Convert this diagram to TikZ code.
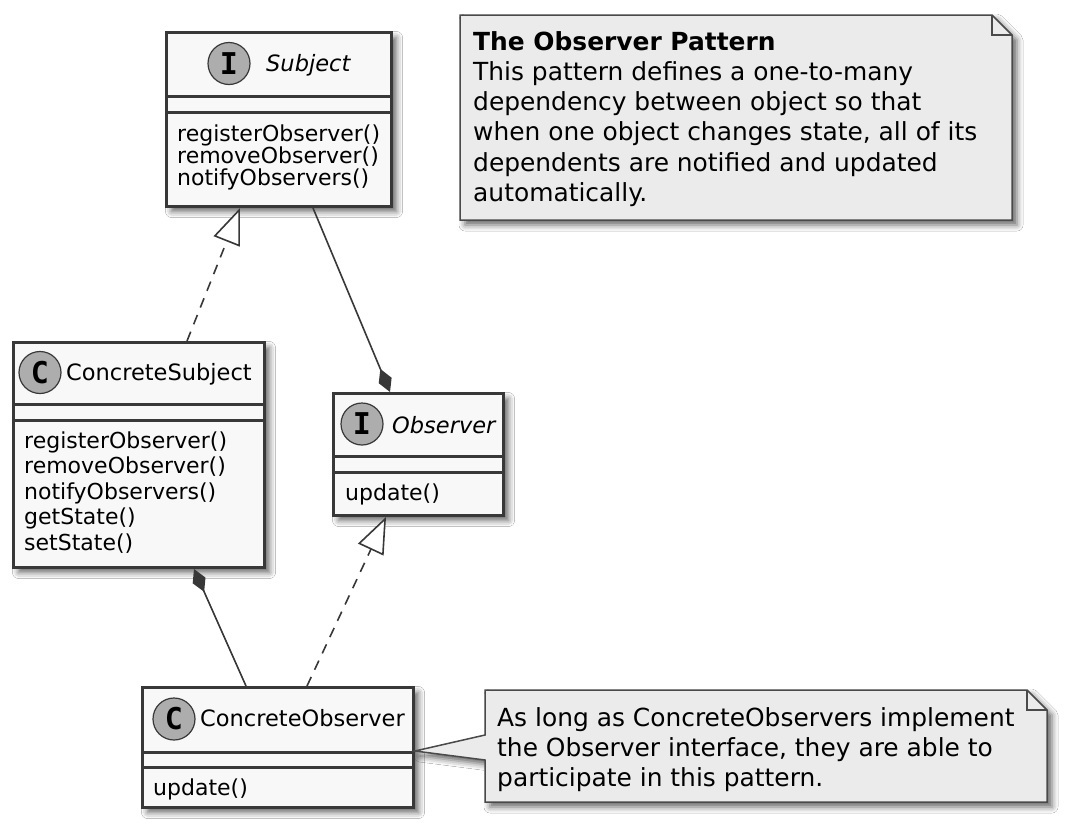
\documentclass[tikz,border=0pt]{standalone}
\usepackage{fontspec}
\setmainfont{DejaVu Sans}
\newfontfamily\spotfont{DejaVu Sans Mono}
\usetikzlibrary{arrows.meta,shadows.blur,calc}
\definecolor{border}{HTML}{383838}
\definecolor{boxfill}{HTML}{F8F8F8}
\definecolor{notefill}{HTML}{EBEBEB}
\definecolor{spotfill}{HTML}{ADADAD}
\definecolor{noteborder}{HTML}{4A4A4A}
\begin{document}
\begin{tikzpicture}[x=1pt,y=-1pt,
  shadowed/.style={blur shadow={shadow xshift=5pt, shadow yshift=-5pt, shadow blur radius=6pt, shadow opacity=60}},
  classbox/.style={draw=border, fill=boxfill, line width=3pt, anchor=north west, inner sep=0pt, shadowed},
  sepline/.style={draw=border, line width=3pt},
  spot/.style={circle, draw=border, fill=spotfill, line width=1.2pt, minimum size=42pt, inner sep=0pt, font=\spotfont\bfseries\fontsize{30}{30}\selectfont},
  cname/.style={anchor=base west, inner sep=0pt, font=\fontsize{22.5}{27}\selectfont},
  iname/.style={anchor=base west, inner sep=0pt, font=\fontsize{22.5}{27}\selectfont\itshape},
  member/.style={anchor=base west, inner sep=0pt, font=\fontsize{22}{24}\selectfont},
  notebox/.style={draw=noteborder, fill=notefill, line width=1.5pt, line join=miter, shadowed},
  foldline/.style={draw=noteborder, line width=1.5pt},
  notetext/.style={anchor=base west, inner sep=0pt, font=\fontsize{24.9}{30}\selectfont},
  conn/.style={draw=border, line width=1.6pt},
  realize/.style={conn, dash pattern=on 10pt off 8pt, -{Triangle[length=36pt,width=28pt,fill=white,line width=1.6pt]}},
  compo/.style={conn, -{Diamond[length=25pt,width=14pt]}},
  compostart/.style={conn, {Diamond[length=25pt,width=14pt]}-}
]
\fill[white] (0,0) rectangle (1068,827);
\useasboundingbox (0,0) rectangle (1068,827);

% Subject
\node[classbox, minimum width=225pt, minimum height=174pt] (subject) at (165,31) {};
\draw[sepline] ($(subject.north west)+(0,65)$) -- ($(subject.north east)+(0,65)$);
\draw[sepline] ($(subject.north west)+(0,81)$) -- ($(subject.north east)+(0,81)$);
\node[spot] (sspot) at (229,63.5) {I};
\node[iname] (sname) at (266,71) {Subject};
\node[member] (sm1) at (177,141.5) {registerObserver()};
\node[member] (sm2) at (177,163.5) {removeObserver()};
\node[member] (sm3) at (177,185.5) {notifyObservers()};

% ConcreteSubject
\node[classbox, minimum width=251pt, minimum height=225pt] (csubj) at (12,341) {};
\draw[sepline] ($(csubj.north west)+(0,63)$) -- ($(csubj.north east)+(0,63)$);
\draw[sepline] ($(csubj.north west)+(0,79)$) -- ($(csubj.north east)+(0,79)$);
\node[spot] (csspot) at (40,372.5) {C};
\node[cname] (csname) at (66,380) {ConcreteSubject};
\node[member] (csm1) at (24,448) {registerObserver()};
\node[member] (csm2) at (24,473.5) {removeObserver()};
\node[member] (csm3) at (24,499) {notifyObservers()};
\node[member] (csm4) at (24,524.5) {getState()};
\node[member] (csm5) at (24,550) {setState()};

% Observer
\node[classbox, minimum width=170pt, minimum height=122pt] (obs) at (332,392) {};
\draw[sepline] ($(obs.north west)+(0,64)$) -- ($(obs.north east)+(0,64)$);
\draw[sepline] ($(obs.north west)+(0,80)$) -- ($(obs.north east)+(0,80)$);
\node[spot] (ospot) at (362,424) {I};
\node[iname] (oname) at (392,433) {Observer};
\node[member] (om1) at (345,500) {update()};

% ConcreteObserver
\node[classbox, minimum width=271pt, minimum height=120pt] (cobs) at (141,686) {};
\draw[sepline] ($(cobs.north west)+(0,66)$) -- ($(cobs.north east)+(0,66)$);
\draw[sepline] ($(cobs.north west)+(0,81)$) -- ($(cobs.north east)+(0,81)$);
\node[spot] (cospot) at (174,719) {C};
\node[cname] (coname) at (200,726) {ConcreteObserver};
\node[member] (com1) at (153,795) {update()};

% Note 1
\path[notebox] (460,15) -- (992,15) -- (1012,35) -- (1012,220) -- (460,220) -- cycle;
\draw[foldline] (992,15) -- (992,35) -- (1012,35);
\node[notetext, font=\fontsize{24.9}{30}\selectfont\bfseries] (n1a) at (473,50) {The Observer Pattern};
\node[notetext] (n1b) at (473,80.3) {This pattern defines a one-to-many};
\node[notetext] (n1c) at (473,110.6) {dependency between object so that};
\node[notetext] (n1d) at (473,140.9) {when one object changes state, all of its};
\node[notetext] (n1e) at (473,171.2) {dependents are notified and updated};
\node[notetext] (n1f) at (473,201.5) {automatically.};

% Note 2
\coordinate (cor) at ($(cobs.south east)+(0,-58)$);
\path[notebox] (485,690) -- (1027,690) -- (1047,710) -- (1047,802) -- (485,802) -- (485,760) -- (cor) -- (485,735) -- cycle;
\draw[foldline] (1027,690) -- (1027,710) -- (1047,710);
\node[notetext] (n2a) at (497,726) {As long as ConcreteObservers implement};
\node[notetext] (n2b) at (497,756) {the Observer interface, they are able to};
\node[notetext] (n2c) at (497,786) {participate in this pattern.};

% connector end points
\coordinate (sB1) at ($(subject.south west)+(75,0)$);
\coordinate (sB2) at ($(subject.south west)+(148,0)$);
\coordinate (csT) at ($(csubj.north west)+(175,0)$);
\coordinate (csB) at ($(csubj.south west)+(182,0)$);
\coordinate (oT) at ($(obs.north west)+(58,0)$);
\coordinate (oB) at ($(obs.south west)+(54,0)$);
\coordinate (coT1) at ($(cobs.north west)+(105,0)$);
\coordinate (coT2) at ($(cobs.north west)+(166,0)$);

\draw[realize] (csT) -- (sB1);
\draw[compo] (sB2) -- (oT);
\draw[compostart] (csB) -- (coT1);
\draw[realize] (coT2) -- (oB);
\end{tikzpicture}
\end{document}
